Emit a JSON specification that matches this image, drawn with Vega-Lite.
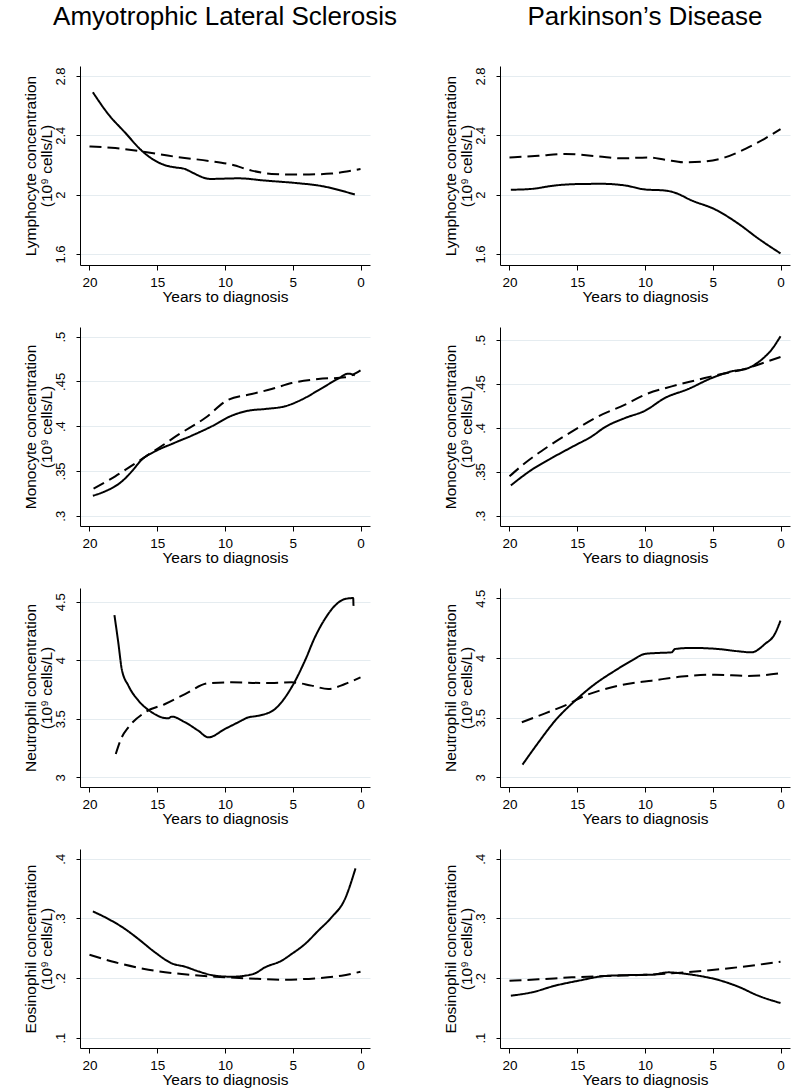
{
  "$schema": "https://vega.github.io/schema/vega-lite/v6.json",
  "padding": {"left": 23, "top": 4, "right": 5, "bottom": 5},
  "background": "white",
  "datasets": {
    "d": [
      {"d":"ALS","c":"L","g":"a","t":19.75,"v":2.69},{"d":"ALS","c":"L","g":"a","t":18.6,"v":2.541},{"d":"ALS","c":"L","g":"a","t":17.37,"v":2.418},{"d":"ALS","c":"L","g":"a","t":16.14,"v":2.296},{"d":"ALS","c":"L","g":"a","t":15.16,"v":2.229},{"d":"ALS","c":"L","g":"a","t":14.3,"v":2.195},{"d":"ALS","c":"L","g":"a","t":13.7,"v":2.184},{"d":"ALS","c":"L","g":"a","t":12.95,"v":2.173},{"d":"ALS","c":"L","g":"a","t":12.46,"v":2.151},{"d":"ALS","c":"L","g":"a","t":11.1,"v":2.106},{"d":"ALS","c":"L","g":"a","t":9.0,"v":2.11},{"d":"ALS","c":"L","g":"a","t":7.05,"v":2.095},{"d":"ALS","c":"L","g":"a","t":4.6,"v":2.077},{"d":"ALS","c":"L","g":"a","t":3.12,"v":2.062},{"d":"ALS","c":"L","g":"a","t":0.42,"v":2.001},
      {"d":"ALS","c":"L","g":"b","t":20,"v":2.325},{"d":"ALS","c":"L","g":"b","t":18.1,"v":2.314},{"d":"ALS","c":"L","g":"b","t":16.14,"v":2.291},{"d":"ALS","c":"L","g":"b","t":13.7,"v":2.256},{"d":"ALS","c":"L","g":"b","t":11.2,"v":2.227},{"d":"ALS","c":"L","g":"b","t":9.5,"v":2.202},{"d":"ALS","c":"L","g":"b","t":8.03,"v":2.162},{"d":"ALS","c":"L","g":"b","t":6.56,"v":2.14},{"d":"ALS","c":"L","g":"b","t":4.6,"v":2.135},{"d":"ALS","c":"L","g":"b","t":2.14,"v":2.142},{"d":"ALS","c":"L","g":"b","t":0.91,"v":2.158},{"d":"ALS","c":"L","g":"b","t":0,"v":2.173},
      {"d":"PD","c":"L","g":"a","t":19.9,"v":2.033},{"d":"PD","c":"L","g":"a","t":18.35,"v":2.039},{"d":"PD","c":"L","g":"a","t":16.63,"v":2.062},{"d":"PD","c":"L","g":"a","t":15.16,"v":2.071},{"d":"PD","c":"L","g":"a","t":13.2,"v":2.073},{"d":"PD","c":"L","g":"a","t":11.47,"v":2.062},{"d":"PD","c":"L","g":"a","t":10.0,"v":2.035},{"d":"PD","c":"L","g":"a","t":8.53,"v":2.028},{"d":"PD","c":"L","g":"a","t":7.79,"v":2.013},{"d":"PD","c":"L","g":"a","t":6.56,"v":1.961},{"d":"PD","c":"L","g":"a","t":4.84,"v":1.901},{"d":"PD","c":"L","g":"a","t":3.12,"v":1.805},{"d":"PD","c":"L","g":"a","t":1.65,"v":1.705},{"d":"PD","c":"L","g":"a","t":0,"v":1.604},
      {"d":"PD","c":"L","g":"b","t":20,"v":2.251},{"d":"PD","c":"L","g":"b","t":17.86,"v":2.262},{"d":"PD","c":"L","g":"b","t":15.9,"v":2.274},{"d":"PD","c":"L","g":"b","t":13.44,"v":2.258},{"d":"PD","c":"L","g":"b","t":11.72,"v":2.245},{"d":"PD","c":"L","g":"b","t":9.75,"v":2.251},{"d":"PD","c":"L","g":"b","t":8.53,"v":2.236},{"d":"PD","c":"L","g":"b","t":7.05,"v":2.218},{"d":"PD","c":"L","g":"b","t":5.58,"v":2.224},{"d":"PD","c":"L","g":"b","t":4.1,"v":2.251},{"d":"PD","c":"L","g":"b","t":2.63,"v":2.307},{"d":"PD","c":"L","g":"b","t":1.15,"v":2.378},{"d":"PD","c":"L","g":"b","t":0,"v":2.441},
      {"d":"ALS","c":"M","g":"a","t":19.75,"v":0.3223},{"d":"ALS","c":"M","g":"a","t":18.85,"v":0.3272},{"d":"ALS","c":"M","g":"a","t":17.6,"v":0.3384},{"d":"ALS","c":"M","g":"a","t":16.88,"v":0.3495},{"d":"ALS","c":"M","g":"a","t":16.14,"v":0.3626},{"d":"ALS","c":"M","g":"a","t":15.16,"v":0.3719},{"d":"ALS","c":"M","g":"a","t":13.93,"v":0.3801},{"d":"ALS","c":"M","g":"a","t":12.46,"v":0.3894},{"d":"ALS","c":"M","g":"a","t":10.98,"v":0.3998},{"d":"ALS","c":"M","g":"a","t":9.51,"v":0.4117},{"d":"ALS","c":"M","g":"a","t":8.28,"v":0.4173},{"d":"ALS","c":"M","g":"a","t":7.05,"v":0.4192},{"d":"ALS","c":"M","g":"a","t":5.58,"v":0.4222},{"d":"ALS","c":"M","g":"a","t":4.35,"v":0.4296},{"d":"ALS","c":"M","g":"a","t":3.12,"v":0.44},{"d":"ALS","c":"M","g":"a","t":1.65,"v":0.4531},{"d":"ALS","c":"M","g":"a","t":0.91,"v":0.4587},{"d":"ALS","c":"M","g":"a","t":0.42,"v":0.4568},
      {"d":"ALS","c":"M","g":"b","t":19.7,"v":0.3302},{"d":"ALS","c":"M","g":"b","t":18.1,"v":0.344},{"d":"ALS","c":"M","g":"b","t":16.4,"v":0.3607},{"d":"ALS","c":"M","g":"b","t":14.9,"v":0.3756},{"d":"ALS","c":"M","g":"b","t":13.44,"v":0.3905},{"d":"ALS","c":"M","g":"b","t":11.47,"v":0.4091},{"d":"ALS","c":"M","g":"b","t":9.75,"v":0.4296},{"d":"ALS","c":"M","g":"b","t":8.03,"v":0.4359},{"d":"ALS","c":"M","g":"b","t":6.56,"v":0.4415},{"d":"ALS","c":"M","g":"b","t":5.08,"v":0.4482},{"d":"ALS","c":"M","g":"b","t":3.12,"v":0.4527},{"d":"ALS","c":"M","g":"b","t":1.15,"v":0.4546},{"d":"ALS","c":"M","g":"b","t":0,"v":0.4624},
      {"d":"PD","c":"M","g":"a","t":19.9,"v":0.3345},{"d":"PD","c":"M","g":"a","t":18.35,"v":0.3524},{"d":"PD","c":"M","g":"a","t":16.88,"v":0.3657},{"d":"PD","c":"M","g":"a","t":15.16,"v":0.3801},{"d":"PD","c":"M","g":"a","t":13.93,"v":0.3903},{"d":"PD","c":"M","g":"a","t":12.95,"v":0.4009},{"d":"PD","c":"M","g":"a","t":11.47,"v":0.4112},{"d":"PD","c":"M","g":"a","t":10.0,"v":0.4195},{"d":"PD","c":"M","g":"a","t":8.53,"v":0.434},{"d":"PD","c":"M","g":"a","t":6.81,"v":0.4442},{"d":"PD","c":"M","g":"a","t":5.08,"v":0.4567},{"d":"PD","c":"M","g":"a","t":3.61,"v":0.4643},{"d":"PD","c":"M","g":"a","t":2.38,"v":0.4681},{"d":"PD","c":"M","g":"a","t":1.4,"v":0.4776},{"d":"PD","c":"M","g":"a","t":0.66,"v":0.489},{"d":"PD","c":"M","g":"a","t":0,"v":0.5042},
      {"d":"PD","c":"M","g":"b","t":20,"v":0.3448},{"d":"PD","c":"M","g":"b","t":18.85,"v":0.36},{"d":"PD","c":"M","g":"b","t":17.13,"v":0.3789},{"d":"PD","c":"M","g":"b","t":15.16,"v":0.3979},{"d":"PD","c":"M","g":"b","t":13.44,"v":0.4131},{"d":"PD","c":"M","g":"b","t":11.47,"v":0.4264},{"d":"PD","c":"M","g":"b","t":10.0,"v":0.4378},{"d":"PD","c":"M","g":"b","t":8.03,"v":0.4472},{"d":"PD","c":"M","g":"b","t":6.07,"v":0.4548},{"d":"PD","c":"M","g":"b","t":4.59,"v":0.4605},{"d":"PD","c":"M","g":"b","t":2.63,"v":0.467},{"d":"PD","c":"M","g":"b","t":1.15,"v":0.4746},{"d":"PD","c":"M","g":"b","t":0,"v":0.4806},
      {"d":"ALS","c":"N","g":"a","t":18.16,"v":4.386},{"d":"ALS","c":"N","g":"a","t":17.86,"v":4.138},{"d":"ALS","c":"N","g":"a","t":17.62,"v":3.925},{"d":"ALS","c":"N","g":"a","t":17.13,"v":3.783},{"d":"ALS","c":"N","g":"a","t":16.39,"v":3.655},{"d":"ALS","c":"N","g":"a","t":15.4,"v":3.555},{"d":"ALS","c":"N","g":"a","t":14.67,"v":3.512},{"d":"ALS","c":"N","g":"a","t":14.18,"v":3.504},{"d":"ALS","c":"N","g":"a","t":13.93,"v":3.518},{"d":"ALS","c":"N","g":"a","t":12.95,"v":3.47},{"d":"ALS","c":"N","g":"a","t":11.97,"v":3.398},{"d":"ALS","c":"N","g":"a","t":11.23,"v":3.341},{"d":"ALS","c":"N","g":"a","t":10.0,"v":3.413},{"d":"ALS","c":"N","g":"a","t":9.02,"v":3.47},{"d":"ALS","c":"N","g":"a","t":8.28,"v":3.512},{"d":"ALS","c":"N","g":"a","t":7.79,"v":3.521},{"d":"ALS","c":"N","g":"a","t":7.3,"v":3.532},{"d":"ALS","c":"N","g":"a","t":6.31,"v":3.583},{"d":"ALS","c":"N","g":"a","t":5.09,"v":3.768},{"d":"ALS","c":"N","g":"a","t":4.1,"v":3.996},{"d":"ALS","c":"N","g":"a","t":3.37,"v":4.195},{"d":"ALS","c":"N","g":"a","t":2.63,"v":4.352},{"d":"ALS","c":"N","g":"a","t":1.89,"v":4.466},{"d":"ALS","c":"N","g":"a","t":1.15,"v":4.523},{"d":"ALS","c":"N","g":"a","t":0.54,"v":4.531},{"d":"ALS","c":"N","g":"a","t":0.52,"v":4.466},
      {"d":"ALS","c":"N","g":"b","t":18.06,"v":3.199},{"d":"ALS","c":"N","g":"b","t":17.62,"v":3.341},{"d":"ALS","c":"N","g":"b","t":17.13,"v":3.427},{"d":"ALS","c":"N","g":"b","t":15.9,"v":3.555},{"d":"ALS","c":"N","g":"b","t":14.42,"v":3.626},{"d":"ALS","c":"N","g":"b","t":12.95,"v":3.711},{"d":"ALS","c":"N","g":"b","t":11.23,"v":3.803},{"d":"ALS","c":"N","g":"b","t":9.51,"v":3.811},{"d":"ALS","c":"N","g":"b","t":7.05,"v":3.805},{"d":"ALS","c":"N","g":"b","t":5.09,"v":3.811},{"d":"ALS","c":"N","g":"b","t":3.61,"v":3.783},{"d":"ALS","c":"N","g":"b","t":2.38,"v":3.754},{"d":"ALS","c":"N","g":"b","t":1.15,"v":3.797},{"d":"ALS","c":"N","g":"b","t":0,"v":3.854},
      {"d":"PD","c":"N","g":"a","t":19.04,"v":3.106},{"d":"PD","c":"N","g":"a","t":17.86,"v":3.293},{"d":"PD","c":"N","g":"a","t":16.63,"v":3.475},{"d":"PD","c":"N","g":"a","t":15.16,"v":3.642},{"d":"PD","c":"N","g":"a","t":13.69,"v":3.782},{"d":"PD","c":"N","g":"a","t":12.21,"v":3.894},{"d":"PD","c":"N","g":"a","t":10.98,"v":3.978},{"d":"PD","c":"N","g":"a","t":10.0,"v":4.034},{"d":"PD","c":"N","g":"a","t":9.02,"v":4.042},{"d":"PD","c":"N","g":"a","t":8.03,"v":4.047},{"d":"PD","c":"N","g":"a","t":7.79,"v":4.075},{"d":"PD","c":"N","g":"a","t":6.56,"v":4.084},{"d":"PD","c":"N","g":"a","t":4.59,"v":4.075},{"d":"PD","c":"N","g":"a","t":3.12,"v":4.056},{"d":"PD","c":"N","g":"a","t":2.14,"v":4.047},{"d":"PD","c":"N","g":"a","t":1.15,"v":4.117},{"d":"PD","c":"N","g":"a","t":0.42,"v":4.201},{"d":"PD","c":"N","g":"a","t":0,"v":4.313},
      {"d":"PD","c":"N","g":"b","t":19.09,"v":3.461},{"d":"PD","c":"N","g":"b","t":17.37,"v":3.536},{"d":"PD","c":"N","g":"b","t":15.65,"v":3.615},{"d":"PD","c":"N","g":"b","t":14.42,"v":3.684},{"d":"PD","c":"N","g":"b","t":12.95,"v":3.74},{"d":"PD","c":"N","g":"b","t":10.98,"v":3.788},{"d":"PD","c":"N","g":"b","t":9.51,"v":3.81},{"d":"PD","c":"N","g":"b","t":7.3,"v":3.844},{"d":"PD","c":"N","g":"b","t":4.84,"v":3.86},{"d":"PD","c":"N","g":"b","t":2.38,"v":3.849},{"d":"PD","c":"N","g":"b","t":0,"v":3.872},
      {"d":"ALS","c":"E","g":"a","t":19.75,"v":0.3117},{"d":"ALS","c":"E","g":"a","t":18.6,"v":0.2989},{"d":"ALS","c":"E","g":"a","t":17.37,"v":0.2821},{"d":"ALS","c":"E","g":"a","t":16.39,"v":0.2654},{"d":"ALS","c":"E","g":"a","t":15.16,"v":0.243},{"d":"ALS","c":"E","g":"a","t":13.93,"v":0.2246},{"d":"ALS","c":"E","g":"a","t":12.95,"v":0.219},{"d":"ALS","c":"E","g":"a","t":11.97,"v":0.2112},{"d":"ALS","c":"E","g":"a","t":10.74,"v":0.2039},{"d":"ALS","c":"E","g":"a","t":9.51,"v":0.2022},{"d":"ALS","c":"E","g":"a","t":8.53,"v":0.2039},{"d":"ALS","c":"E","g":"a","t":7.79,"v":0.2078},{"d":"ALS","c":"E","g":"a","t":7.05,"v":0.2179},{"d":"ALS","c":"E","g":"a","t":5.82,"v":0.2291},{"d":"ALS","c":"E","g":"a","t":5.09,"v":0.2402},{"d":"ALS","c":"E","g":"a","t":4.1,"v":0.257},{"d":"ALS","c":"E","g":"a","t":3.12,"v":0.2793},{"d":"ALS","c":"E","g":"a","t":2.14,"v":0.3017},{"d":"ALS","c":"E","g":"a","t":1.15,"v":0.3324},{"d":"ALS","c":"E","g":"a","t":0.37,"v":0.3838},
      {"d":"ALS","c":"E","g":"b","t":20,"v":0.2391},{"d":"ALS","c":"E","g":"b","t":18.1,"v":0.2263},{"d":"ALS","c":"E","g":"b","t":15.65,"v":0.214},{"d":"ALS","c":"E","g":"b","t":13.19,"v":0.2067},{"d":"ALS","c":"E","g":"b","t":10.74,"v":0.2022},{"d":"ALS","c":"E","g":"b","t":8.28,"v":0.1994},{"d":"ALS","c":"E","g":"b","t":5.82,"v":0.1972},{"d":"ALS","c":"E","g":"b","t":3.37,"v":0.1994},{"d":"ALS","c":"E","g":"b","t":1.4,"v":0.2039},{"d":"ALS","c":"E","g":"b","t":0,"v":0.2106},
      {"d":"PD","c":"E","g":"a","t":19.9,"v":0.1704},{"d":"PD","c":"E","g":"a","t":18.35,"v":0.176},{"d":"PD","c":"E","g":"a","t":16.63,"v":0.1872},{"d":"PD","c":"E","g":"a","t":14.91,"v":0.1955},{"d":"PD","c":"E","g":"a","t":12.95,"v":0.2034},{"d":"PD","c":"E","g":"a","t":10.98,"v":0.205},{"d":"PD","c":"E","g":"a","t":9.51,"v":0.2056},{"d":"PD","c":"E","g":"a","t":8.28,"v":0.2095},{"d":"PD","c":"E","g":"a","t":7.3,"v":0.2078},{"d":"PD","c":"E","g":"a","t":6.07,"v":0.2039},{"d":"PD","c":"E","g":"a","t":4.84,"v":0.1983},{"d":"PD","c":"E","g":"a","t":3.12,"v":0.1855},{"d":"PD","c":"E","g":"a","t":1.65,"v":0.1704},{"d":"PD","c":"E","g":"a","t":0,"v":0.1581},
      {"d":"PD","c":"E","g":"b","t":20,"v":0.1955},{"d":"PD","c":"E","g":"b","t":17.86,"v":0.1978},{"d":"PD","c":"E","g":"b","t":15.4,"v":0.2011},{"d":"PD","c":"E","g":"b","t":12.95,"v":0.2034},{"d":"PD","c":"E","g":"b","t":10.49,"v":0.205},{"d":"PD","c":"E","g":"b","t":8.03,"v":0.2078},{"d":"PD","c":"E","g":"b","t":5.58,"v":0.2123},{"d":"PD","c":"E","g":"b","t":3.61,"v":0.2168},{"d":"PD","c":"E","g":"b","t":1.65,"v":0.2223},{"d":"PD","c":"E","g":"b","t":0,"v":0.2274}
    ]
  },
  "columns": 2,
  "spacing": {"row": 62, "column": 130},
  "bounds": "flush",
  "concat": [
    {
      "title": "Amyotrophic Lateral Sclerosis",
      "width": 290, "height": 199,
      "data": {"name": "d"},
      "transform": [{"filter": "datum.d == 'ALS' && datum.c == 'L'"}],
      "mark": {"type": "line", "color": "black", "strokeWidth": 2, "interpolate": "monotone"},
      "encoding": {
        "x": {"field": "t", "type": "quantitative", "scale": {"domain": [-0.7, 20.7], "reverse": true, "nice": false, "zero": false}, "axis": {"values": [0, 5, 10, 15, 20], "title": "Years to diagnosis"}},
        "y": {"field": "v", "type": "quantitative", "scale": {"domain": [1.526, 2.867], "nice": false, "zero": false}, "axis": {"values": [1.6, 2, 2.4, 2.8], "format": "~g", "title": ["Lymphocyte concentration", "(10⁹ cells/L)"]}},
        "strokeDash": {"field": "g", "type": "nominal", "scale": {"domain": ["a", "b"], "range": [[1, 0], [12, 6]]}, "legend": null}
      }
    },
    {
      "title": "Parkinson’s Disease",
      "width": 290, "height": 199,
      "data": {"name": "d"},
      "transform": [{"filter": "datum.d == 'PD' && datum.c == 'L'"}],
      "mark": {"type": "line", "color": "black", "strokeWidth": 2, "interpolate": "monotone"},
      "encoding": {
        "x": {"field": "t", "type": "quantitative", "scale": {"domain": [-0.7, 20.7], "reverse": true, "nice": false, "zero": false}, "axis": {"values": [0, 5, 10, 15, 20], "title": "Years to diagnosis"}},
        "y": {"field": "v", "type": "quantitative", "scale": {"domain": [1.526, 2.867], "nice": false, "zero": false}, "axis": {"values": [1.6, 2, 2.4, 2.8], "format": "~g", "title": ["Lymphocyte concentration", "(10⁹ cells/L)"]}},
        "strokeDash": {"field": "g", "type": "nominal", "scale": {"domain": ["a", "b"], "range": [[1, 0], [12, 6]]}, "legend": null}
      }
    },
    {
      "width": 290, "height": 199,
      "data": {"name": "d"},
      "transform": [{"filter": "datum.d == 'ALS' && datum.c == 'M'"}],
      "mark": {"type": "line", "color": "black", "strokeWidth": 2, "interpolate": "monotone"},
      "encoding": {
        "x": {"field": "t", "type": "quantitative", "scale": {"domain": [-0.7, 20.7], "reverse": true, "nice": false, "zero": false}, "axis": {"values": [0, 5, 10, 15, 20], "title": "Years to diagnosis"}},
        "y": {"field": "v", "type": "quantitative", "scale": {"domain": [0.2885, 0.5108], "nice": false, "zero": false}, "axis": {"values": [0.3, 0.35, 0.4, 0.45, 0.5], "labelExpr": "slice(format(datum.value, '.2~f'), 1)", "title": ["Monocyte concentration", "(10⁹ cells/L)"]}},
        "strokeDash": {"field": "g", "type": "nominal", "scale": {"domain": ["a", "b"], "range": [[1, 0], [12, 6]]}, "legend": null}
      }
    },
    {
      "width": 290, "height": 199,
      "data": {"name": "d"},
      "transform": [{"filter": "datum.d == 'PD' && datum.c == 'M'"}],
      "mark": {"type": "line", "color": "black", "strokeWidth": 2, "interpolate": "monotone"},
      "encoding": {
        "x": {"field": "t", "type": "quantitative", "scale": {"domain": [-0.7, 20.7], "reverse": true, "nice": false, "zero": false}, "axis": {"values": [0, 5, 10, 15, 20], "title": "Years to diagnosis"}},
        "y": {"field": "v", "type": "quantitative", "scale": {"domain": [0.2883, 0.5148], "nice": false, "zero": false}, "axis": {"values": [0.3, 0.35, 0.4, 0.45, 0.5], "labelExpr": "slice(format(datum.value, '.2~f'), 1)", "title": ["Monocyte concentration", "(10⁹ cells/L)"]}},
        "strokeDash": {"field": "g", "type": "nominal", "scale": {"domain": ["a", "b"], "range": [[1, 0], [12, 6]]}, "legend": null}
      }
    },
    {
      "width": 290, "height": 199,
      "data": {"name": "d"},
      "transform": [{"filter": "datum.d == 'ALS' && datum.c == 'N'"}],
      "mark": {"type": "line", "color": "black", "strokeWidth": 2, "interpolate": "monotone"},
      "encoding": {
        "x": {"field": "t", "type": "quantitative", "scale": {"domain": [-0.7, 20.7], "reverse": true, "nice": false, "zero": false}, "axis": {"values": [0, 5, 10, 15, 20], "title": "Years to diagnosis"}},
        "y": {"field": "v", "type": "quantitative", "scale": {"domain": [2.917, 4.617], "nice": false, "zero": false}, "axis": {"values": [3, 3.5, 4, 4.5], "format": "~g", "title": ["Neutrophil concentration", "(10⁹ cells/L)"]}},
        "strokeDash": {"field": "g", "type": "nominal", "scale": {"domain": ["a", "b"], "range": [[1, 0], [12, 6]]}, "legend": null}
      }
    },
    {
      "width": 290, "height": 199,
      "data": {"name": "d"},
      "transform": [{"filter": "datum.d == 'PD' && datum.c == 'N'"}],
      "mark": {"type": "line", "color": "black", "strokeWidth": 2, "interpolate": "monotone"},
      "encoding": {
        "x": {"field": "t", "type": "quantitative", "scale": {"domain": [-0.7, 20.7], "reverse": true, "nice": false, "zero": false}, "axis": {"values": [0, 5, 10, 15, 20], "title": "Years to diagnosis"}},
        "y": {"field": "v", "type": "quantitative", "scale": {"domain": [2.919, 4.586], "nice": false, "zero": false}, "axis": {"values": [3, 3.5, 4, 4.5], "format": "~g", "title": ["Neutrophil concentration", "(10⁹ cells/L)"]}},
        "strokeDash": {"field": "g", "type": "nominal", "scale": {"domain": ["a", "b"], "range": [[1, 0], [12, 6]]}, "legend": null}
      }
    },
    {
      "width": 290, "height": 199,
      "data": {"name": "d"},
      "transform": [{"filter": "datum.d == 'ALS' && datum.c == 'E'"}],
      "mark": {"type": "line", "color": "black", "strokeWidth": 2, "interpolate": "monotone"},
      "encoding": {
        "x": {"field": "t", "type": "quantitative", "scale": {"domain": [-0.7, 20.7], "reverse": true, "nice": false, "zero": false}, "axis": {"values": [0, 5, 10, 15, 20], "title": "Years to diagnosis"}},
        "y": {"field": "v", "type": "quantitative", "scale": {"domain": [0.0827, 0.4163], "nice": false, "zero": false}, "axis": {"values": [0.1, 0.2, 0.3, 0.4], "labelExpr": "slice(format(datum.value, '.2~f'), 1)", "title": ["Eosinophil concentration", "(10⁹ cells/L)"]}},
        "strokeDash": {"field": "g", "type": "nominal", "scale": {"domain": ["a", "b"], "range": [[1, 0], [12, 6]]}, "legend": null}
      }
    },
    {
      "width": 290, "height": 199,
      "data": {"name": "d"},
      "transform": [{"filter": "datum.d == 'PD' && datum.c == 'E'"}],
      "mark": {"type": "line", "color": "black", "strokeWidth": 2, "interpolate": "monotone"},
      "encoding": {
        "x": {"field": "t", "type": "quantitative", "scale": {"domain": [-0.7, 20.7], "reverse": true, "nice": false, "zero": false}, "axis": {"values": [0, 5, 10, 15, 20], "title": "Years to diagnosis"}},
        "y": {"field": "v", "type": "quantitative", "scale": {"domain": [0.0827, 0.4163], "nice": false, "zero": false}, "axis": {"values": [0.1, 0.2, 0.3, 0.4], "labelExpr": "slice(format(datum.value, '.2~f'), 1)", "title": ["Eosinophil concentration", "(10⁹ cells/L)"]}},
        "strokeDash": {"field": "g", "type": "nominal", "scale": {"domain": ["a", "b"], "range": [[1, 0], [12, 6]]}, "legend": null}
      }
    }
  ],
  "config": {
    "view": {"stroke": null},
    "font": "Liberation Sans",
    "title": {"fontSize": 26, "fontWeight": "normal", "font": "Liberation Sans", "color": "black", "anchor": "middle", "baseline": "alphabetic", "offset": 36},
    "axis": {"domainColor": "black", "tickColor": "black", "domainWidth": 1, "tickWidth": 1, "labelColor": "black", "titleColor": "black", "labelFont": "Liberation Sans", "titleFont": "Liberation Sans", "labelFontSize": 13.5, "titleFontSize": 15.5, "titleFontWeight": "normal", "labelFlush": false, "labelOverlap": false},
    "axisX": {"grid": false, "tickSize": 5, "labelPadding": 5, "titlePadding": 1},
    "axisY": {"grid": true, "gridColor": "#e5ecf0", "gridWidth": 1.2, "tickSize": 4, "labelFontSize": 13, "labelAngle": -90, "labelAlign": "center", "labelBaseline": "bottom", "labelPadding": 9, "titlePadding": 0, "titleLineHeight": 16}
  }
}
